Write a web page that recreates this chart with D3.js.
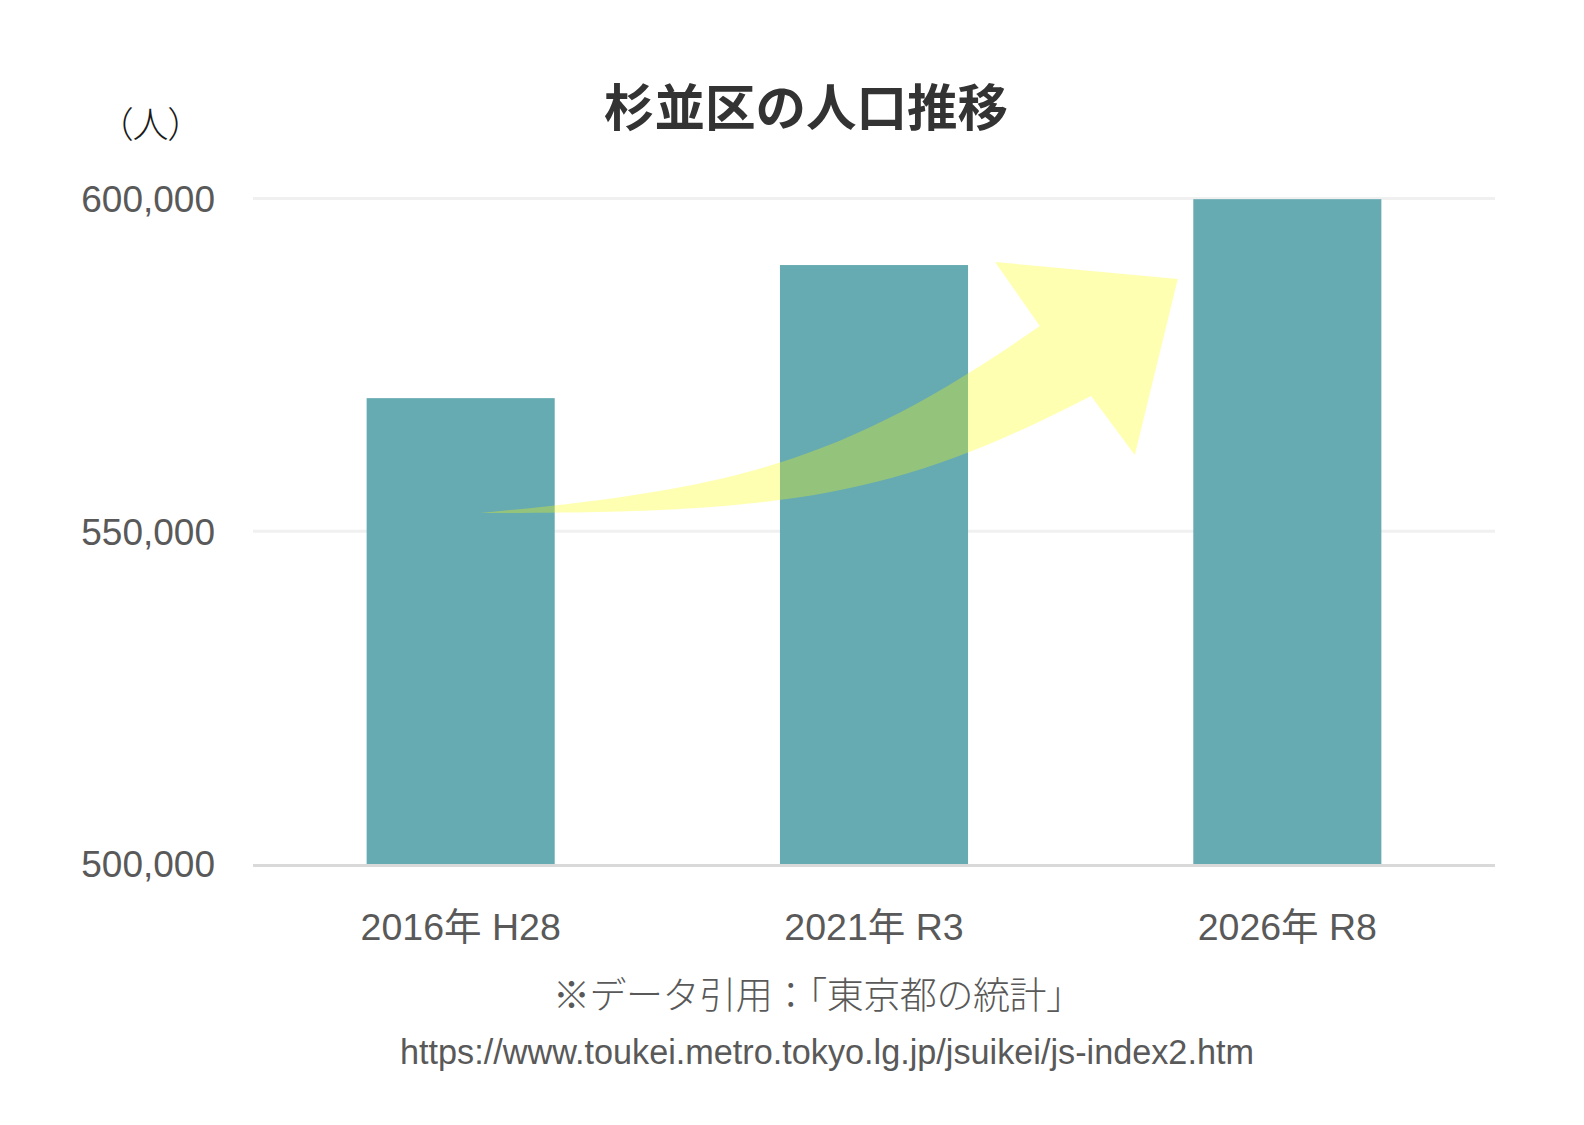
<!DOCTYPE html>
<html>
<head>
<meta charset="utf-8">
<script src="https://cdn.jsdelivr.net/npm/d3@7"></script>
<style>
  html, body { margin: 0; padding: 0; background: #fff; }
  svg { display: block; }
</style>
</head>
<body>
<svg id="chart" width="1584" height="1125"></svg>
<script>
// ---- data ----
const categories = ["2016年 H28", "2021年 R3", "2026年 R8"];
const population = [570000, 590000, 599900];
const yTicks = [500000, 550000, 600000];
const titleText = "杉並区の人口推移";
const unitText = "（人）";
const noteText = "※データ引用：「東京都の統計」";
const urlText = "https://www.toukei.metro.tokyo.lg.jp/jsuikei/js-index2.htm";
// arrow decoration in [band offset from first category, value] units
const arrowUpper = [[0.047, 552740], [0.651, 556350], [0.917, 559800], [1.401, 580840]];
const arrowHead = [[1.293, 590460], [1.735, 587900], [1.631, 561460], [1.525, 570320]];
const arrowLower = [[1.041, 554700], [0.772, 552740], [0.047, 552740]];

const latin = "'Liberation Sans', Arial, 'Noto Sans CJK JP', sans-serif";
const svg = d3.select("#chart");

const plot = { left: 254, right: 1494, top: 198.5, bottom: 864 };

const x = d3.scaleBand().domain(categories)
  .range([plot.left, plot.right]).paddingInner(0.545).paddingOuter(0.2725);
const y = d3.scaleLinear().domain([500000, 600000]).range([plot.bottom, plot.top]);

// gridlines
svg.append("g").selectAll("line").data(yTicks.filter(d => d !== 500000)).join("line")
  .attr("x1", plot.left - 1).attr("x2", plot.right + 1)
  .attr("y1", d => y(d)).attr("y2", d => y(d))
  .attr("stroke", "#f0f0f0").attr("stroke-width", 3);

// y axis labels
const yAxis = d3.axisLeft(y).tickValues(yTicks).tickSize(0).tickPadding(0)
  .tickFormat(d3.format(","));
const yg = svg.append("g").attr("transform", `translate(${plot.left - 39},0)`).call(yAxis);
yg.select(".domain").remove();
yg.selectAll("text").attr("font-family", latin).attr("font-size", 37)
  .attr("fill", "#595959").attr("dy", "0.35em");

// bars
svg.append("g").selectAll("rect").data(population).join("rect")
  .attr("x", (d, i) => x(categories[i]))
  .attr("width", x.bandwidth())
  .attr("y", d => y(d))
  .attr("height", d => y(500000) - y(d))
  .attr("fill", "#66aab2");

// baseline
svg.append("line")
  .attr("x1", plot.left - 1).attr("x2", plot.right + 1)
  .attr("y1", y(500000) + 1.5).attr("y2", y(500000) + 1.5)
  .attr("stroke", "#d9d9d9").attr("stroke-width", 3);

// x axis labels
const xAxis = d3.axisBottom(x).tickSize(0).tickPadding(0);
const xg = svg.append("g").attr("transform", `translate(0,${plot.bottom + 63})`).call(xAxis);
xg.select(".domain").remove();
xg.selectAll("text").attr("font-family", latin).attr("font-size", 37.5)
  .attr("fill", "#595959").attr("dy", "0.35em");

// arrow
const c0 = x(categories[0]) + x.bandwidth() / 2;
const st = x.step();
const P = p => [c0 + p[0] * st, y(p[1])];
const u = arrowUpper.map(P), h = arrowHead.map(P), l = arrowLower.map(P);
const path = d3.path();
path.moveTo(...u[0]);
path.bezierCurveTo(...u[1], ...u[2], ...u[3]);
h.forEach(p => path.lineTo(...p));
path.bezierCurveTo(...l[0], ...l[1], ...l[2]);
path.closePath();
svg.append("path").attr("d", path.toString())
  .attr("fill", "#ffff00").attr("fill-opacity", 0.3);

// title
svg.append("text").attr("x", 806).attr("y", 108).attr("dy", "0.35em")
  .attr("text-anchor", "middle")
  .attr("font-family", "'Noto Sans CJK JP', sans-serif").attr("font-weight", "bold")
  .attr("font-size", 50.5).attr("fill", "#333333").text(titleText);

// unit label
svg.append("text").attr("x", 150.5).attr("y", 125).attr("dy", "0.35em")
  .attr("text-anchor", "middle")
  .attr("font-family", "'Noto Sans CJK JP', sans-serif")
  .style("font-feature-settings", "'palt'")
  .attr("font-size", 36).attr("font-weight", 300).attr("fill", "#1a1a1a").text(unitText);

// note
const nt = svg.append("text").attr("x", 818).attr("y", 996).attr("dy", "0.35em")
  .attr("text-anchor", "middle")
  .attr("font-family", "'Noto Sans CJK JP', sans-serif").attr("font-weight", 300)
  .attr("font-size", 37).attr("fill", "#595959").text(noteText);
nt.attr("textLength", 530).attr("lengthAdjust", "spacing");

// url
const ut = svg.append("text").attr("x", 827).attr("y", 1052).attr("dy", "0.35em")
  .attr("text-anchor", "middle")
  .attr("font-family", latin)
  .attr("font-size", 30).attr("fill", "#595959").text(urlText);
const w = ut.node().getComputedTextLength();
ut.attr("font-size", 30 * 854 / w);
</script>
</body>
</html>
